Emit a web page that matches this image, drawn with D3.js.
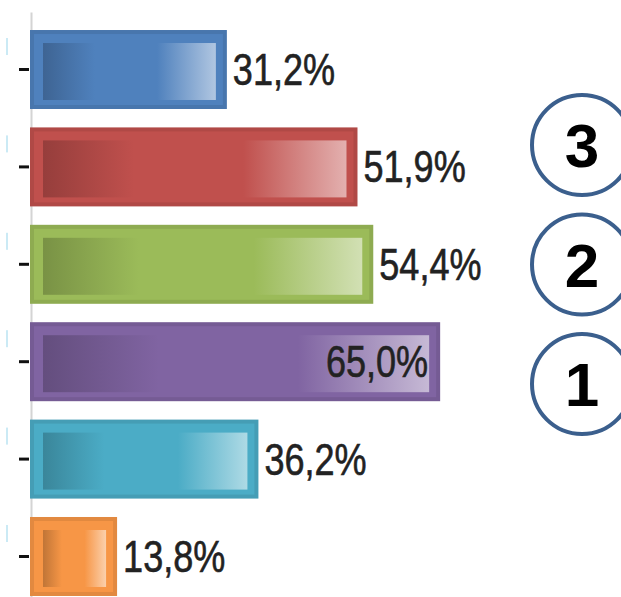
<!DOCTYPE html>
<html>
<head>
<meta charset="utf-8">
<script src="https://cdn.jsdelivr.net/npm/d3@7"></script>
<style>
  html, body { margin: 0; padding: 0; background: #fff; overflow: hidden; }
  svg { display: block; }
</style>
</head>
<body>
<div id="chart"></div>
<script>
var width = 621, height = 597;

// data
var categories = ["A", "B", "C", "D", "E", "F"];
var values = [31.2, 51.9, 54.4, 65.0, 36.2, 13.8];
var baseColors = ["#4f81bd", "#c0504d", "#9bbb59", "#8064a2", "#4bacc6", "#f79646"];
var ranks = [3, 2, 1];

var data = categories.map(function (c, i) {
    return { cat: c, value: values[i], color: baseColors[i] };
});

var svg = d3.select("#chart")
    .append("svg")
    .attr("width", width)
    .attr("height", height);

var x = d3.scaleLinear()
    .domain([0, 100])
    .range([30, 661]);

var y = d3.scaleBand()
    .domain(categories)
    .range([12, 614])
    .paddingInner(0.189)
    .paddingOuter(0.185);

var fmt = function (v) { return d3.format(".1f")(v).replace(".", ",") + "%"; };

// gradients for inner shading
var defs = svg.append("defs");
data.forEach(function (d, i) {
    var base = d3.color(d.color);
    var g = defs.append("linearGradient")
        .attr("id", "grad" + i)
        .attr("x1", "0%").attr("x2", "100%")
        .attr("y1", "0%").attr("y2", "0%");
    g.append("stop").attr("offset", "0%").attr("stop-color", base.darker(0.7));
    g.append("stop").attr("offset", "30%").attr("stop-color", base);
    g.append("stop").attr("offset", "66%").attr("stop-color", base);
    g.append("stop").attr("offset", "100%").attr("stop-color", d3.interpolateRgb(base, "#fff")(0.55));
});

// faint cut-off category labels at the far left
svg.selectAll(".ghost")
    .data(data)
    .enter()
    .append("rect")
    .attr("class", "ghost")
    .attr("x", 6)
    .attr("y", function (d) { return y(d.cat) + 8; })
    .attr("width", 2)
    .attr("height", 17)
    .attr("fill", "#a9dcef")
    .attr("opacity", 0.6);

// axis
var axis = svg.append("g")
    .attr("transform", "translate(31,0)")
    .call(d3.axisLeft(y).tickSize(12).tickSizeOuter(0).tickFormat(""));
axis.select(".domain").attr("stroke", "#d4d4d4").attr("stroke-width", 2);
axis.selectAll(".tick line").attr("stroke", "#111").attr("stroke-width", 3).attr("x1", -2);

var bars = svg.selectAll(".bar")
    .data(data)
    .enter()
    .append("g")
    .attr("class", "bar");

bars.append("rect")
    .attr("x", x(0) + 2)
    .attr("y", function (d) { return y(d.cat) + 2; })
    .attr("width", function (d) { return x(d.value) - x(0) - 4; })
    .attr("height", y.bandwidth() - 4)
    .attr("fill", function (d) { return d.color; })
    .attr("stroke", function (d) { return d3.color(d.color).darker(0.25); })
    .attr("stroke-width", 4);

bars.append("rect")
    .attr("x", x(0) + 13)
    .attr("y", function (d) { return y(d.cat) + 13; })
    .attr("width", function (d) { return x(d.value) - x(0) - 24; })
    .attr("height", y.bandwidth() - 22)
    .attr("fill", function (d, i) { return "url(#grad" + i + ")"; });

var maxV = d3.max(values);

bars.append("text")
    .attr("transform", function (d) {
        var inside = d.value === maxV;
        var tx = inside ? x(d.value) - 12 : x(d.value) + 6;
        return "translate(" + tx + "," + (y(d.cat) + y.bandwidth() / 2 + 15.5) + ") scale(0.82,1)";
    })
    .attr("text-anchor", function (d) { return d.value === maxV ? "end" : "start"; })
    .attr("font-family", "'Liberation Sans', Arial, sans-serif")
    .attr("font-size", 44)
    .attr("fill", "#222")
    .attr("stroke", "#222")
    .attr("stroke-width", 0.6)
    .text(function (d) { return fmt(d.value); });

// rank badges
var ry = d3.scalePoint()
    .domain(ranks)
    .range([145, 384]);

var badges = svg.selectAll(".badge")
    .data(ranks)
    .enter()
    .append("g")
    .attr("class", "badge")
    .attr("transform", function (d) { return "translate(582," + ry(d) + ")"; });

badges.append("circle")
    .attr("r", 50)
    .attr("fill", "#fff")
    .attr("stroke", "#3b5f8d")
    .attr("stroke-width", 4);

badges.append("text")
    .attr("text-anchor", "middle")
    .attr("dy", 22)
    .attr("font-family", "'Liberation Sans', Arial, sans-serif")
    .attr("font-weight", "bold")
    .attr("font-size", 62)
    .attr("fill", "#000")
    .text(function (d) { return d; });
</script>
</body>
</html>
